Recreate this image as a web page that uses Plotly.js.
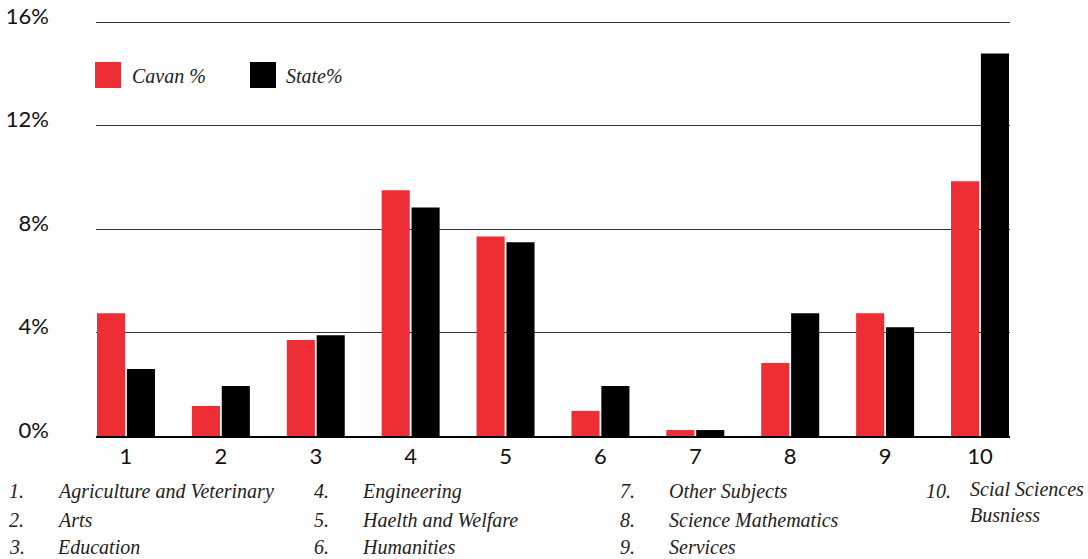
<!DOCTYPE html>
<html>
<head>
<meta charset="utf-8">
<script src="https://cdn.plot.ly/plotly-3.0.1.min.js"></script>
<style>html,body{margin:0;padding:0;background:#fff;}#chart{width:1088px;height:559px;}</style>
</head>
<body>
<div id="chart"></div>
<script>
// ---- data ----
const categories = ['1','2','3','4','5','6','7','8','9','10'];
const cavanPct = [4.75, 1.16, 3.71, 9.5, 7.72, 0.97, 0.23, 2.82, 4.75, 9.85];
const statePct = [2.59, 1.93, 3.9, 8.84, 7.49, 1.93, 0.23, 4.75, 4.21, 14.79];
const seriesNames = ['Cavan %', 'State%'];
const keyNumbers = ['1.','2.','3.','4.','5.','6.','7.','8.','9.','10.'];
const keyNames = ['Agriculture and Veterinary','Arts','Education','Engineering','Haelth and Welfare',
                  'Humanities','Other Subjects','Science Mathematics','Services','Scial Sciences<br>Busniess'];
const yTickVals = [0, 4, 8, 12, 16];
const yTickText = ['0%', '4%', '8%', '12%', '16%'];

const RED = '#EE2E35', BLACK = '#000000';
const W = 1088, H = 559;
const M = {l: 96, r: 78, t: 21, b: 123};
const PW = W - M.l - M.r, PH = H - M.t - M.b;
const px = x => (x - M.l) / PW;
const py = y => (H - M.b - y) / PH;
const serif = 'Liberation Serif, Times New Roman, serif';
const sans = 'Lato, Open Sans, sans-serif';

const traces = [
  {type: 'bar', name: seriesNames[0], x: categories, y: cavanPct, marker: {color: RED}, showlegend: false, hoverinfo: 'y'},
  {type: 'bar', name: seriesNames[1], x: categories, y: statePct, marker: {color: BLACK}, showlegend: false, hoverinfo: 'y'}
];

const shapes = [
  {type: 'rect', xref: 'paper', yref: 'paper', x0: px(95), x1: px(121), y0: py(88), y1: py(62), fillcolor: RED, line: {width: 0}},
  {type: 'rect', xref: 'paper', yref: 'paper', x0: px(250), x1: px(276), y0: py(88), y1: py(62), fillcolor: BLACK, line: {width: 0}}
];

const annotations = [
  {xref: 'paper', yref: 'paper', x: px(130), y: py(76), xanchor: 'left', yanchor: 'middle', showarrow: false,
   text: seriesNames[0], font: {family: serif, size: 20, style: 'italic', color: '#222'}},
  {xref: 'paper', yref: 'paper', x: px(284), y: py(76), xanchor: 'left', yanchor: 'middle', showarrow: false,
   text: seriesNames[1], font: {family: serif, size: 20, style: 'italic', color: '#222'}}
];

const colNumX = [7, 312, 618, 924];
const colTextX = [55, 360, 667, 968];
const rowY = [491, 520, 547];
keyNumbers.forEach((n, i) => {
  const col = Math.floor(i / 3), row = i % 3;
  const f = {family: serif, size: 20, style: 'italic', color: '#222'};
  annotations.push({xref: 'paper', yref: 'paper', x: px(colNumX[col]), y: py(rowY[row]), xanchor: 'left', yanchor: 'middle',
    showarrow: false, text: n, font: f});
  const multi = keyNames[i].indexOf('<br>') >= 0;
  annotations.push({xref: 'paper', yref: 'paper', x: px(colTextX[col]), y: multi ? py(rowY[row] - 15) : py(rowY[row]),
    xanchor: 'left', yanchor: multi ? 'top' : 'middle', align: 'left',
    showarrow: false, text: keyNames[i], font: f});
});

const layout = {
  width: W, height: H,
  margin: M,
  paper_bgcolor: '#fff', plot_bgcolor: '#fff',
  barmode: 'group', bargap: 0.37, bargroupgap: 0.06,
  showlegend: false,
  xaxis: {type: 'category', range: [-0.316, 9.316], showgrid: false, zeroline: false,
          showline: true, linecolor: '#000', linewidth: 1.5, ticks: '',
          tickfont: {family: sans, size: 22, color: '#111'}, fixedrange: true},
  yaxis: {range: [0, 16.05], tickvals: yTickVals, ticktext: yTickText, showgrid: true, gridcolor: '#333', gridwidth: 1,
          zeroline: false, showline: false, ticks: '', ticklabelstandoff: 46, ticklabelshift: -6,
          ticklabeloverflow: 'allow',
          tickfont: {family: sans, size: 22, color: '#111'}, fixedrange: true},
  shapes: shapes,
  annotations: annotations
};

Plotly.newPlot('chart', traces, layout, {displayModeBar: false, staticPlot: true});
</script>
</body>
</html>
